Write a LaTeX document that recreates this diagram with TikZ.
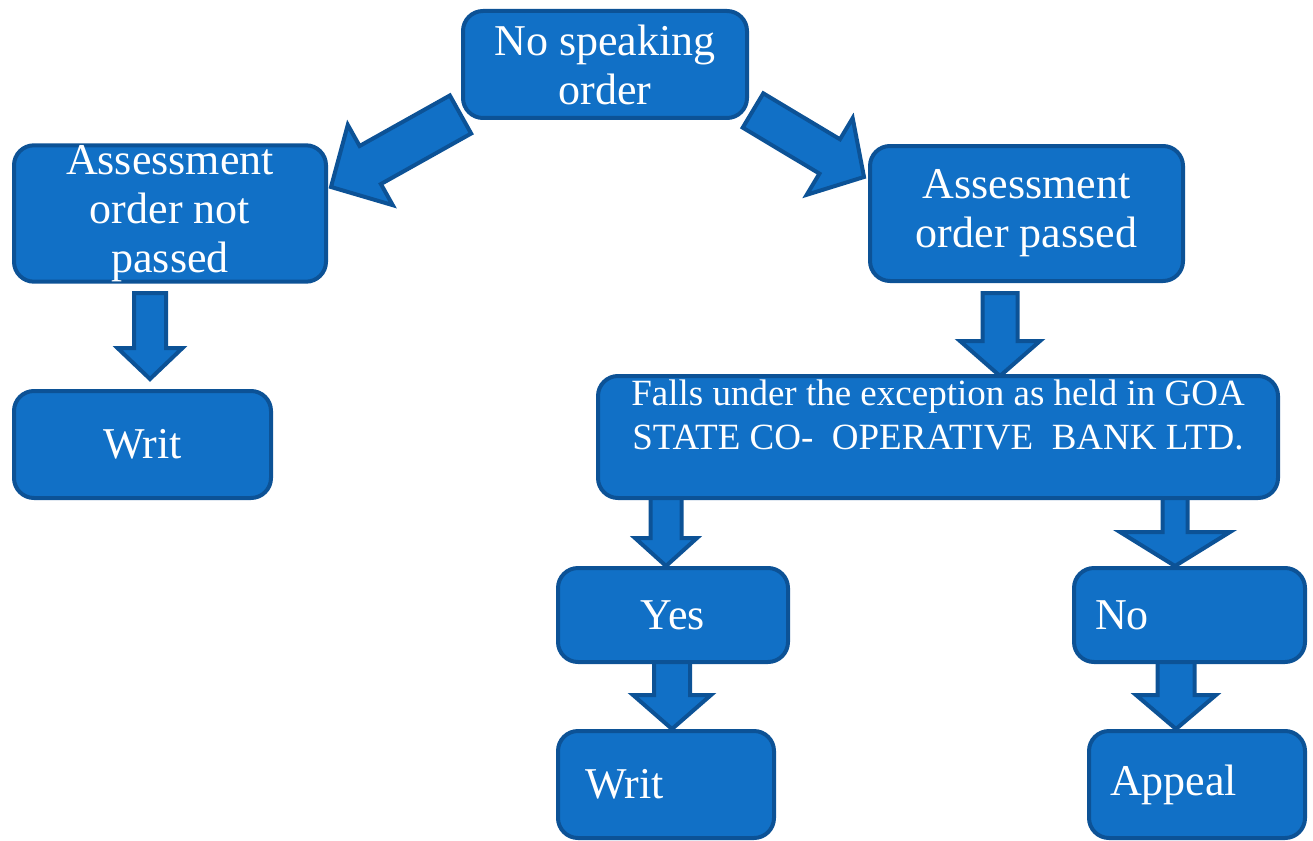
\documentclass[tikz,border=0pt]{standalone}
\usepackage{fontspec}
\setmainfont{Liberation Serif}
\usetikzlibrary{calc}

\definecolor{boxblue}{RGB}{17,112,198}
\definecolor{edgeblue}{RGB}{12,82,150}

\tikzset{
  flowbox/.style={draw=edgeblue, line width=4pt, fill=boxblue, rounded corners=20pt,
    text=white, inner sep=0pt, align=center, font=\fontsize{44}{49}\selectfont},
  fatarrow/.style={draw=edgeblue, line width=4pt, fill=boxblue, line join=miter}
}

% block arrow: from, to, half shaft, half head, head length
\newcommand{\fatarr}[5]{%
  \coordinate (hb) at ($(#2)!#5!(#1)$);
  \draw[fatarrow] ($(#1)!#3!90:(#2)$) -- ($(hb)!#3!90:(#2)$) -- ($(hb)!#4!90:(#2)$)
    -- (#2) -- ($(hb)!#4!-90:(#2)$) -- ($(hb)!#3!-90:(#2)$) -- ($(#1)!#3!-90:(#2)$) -- cycle;
}

\begin{document}
\begin{tikzpicture}[x=1pt, y=-1pt]
\useasboundingbox (0,0) rectangle (1313,840);

% arrow ends
\coordinate (dl1) at (460.5,114.5);  \coordinate (dl2) at (331,187);
\coordinate (dr1) at (753,110.5);    \coordinate (dr2) at (864,177);
\coordinate (vl1) at (150,293);      \coordinate (vl2) at (150,379);
\coordinate (vr1) at (1000,293);     \coordinate (vr2) at (1000,376);
\coordinate (gy1) at (666,495);      \coordinate (gy2) at (666,566);
\coordinate (gn1) at (1175,495);     \coordinate (gn2) at (1175,566);
\coordinate (yw1) at (672,660);      \coordinate (yw2) at (672,729);
\coordinate (na1) at (1176,660);     \coordinate (na2) at (1176,729);

\fatarr{dl1}{dl2}{21.8pt}{46pt}{45pt}
\fatarr{dr1}{dr2}{20pt}{44.7pt}{40pt}
\fatarr{vl1}{vl2}{16pt}{32.5pt}{31pt}
\fatarr{vr1}{vr2}{17.5pt}{40pt}{35pt}
\fatarr{gy1}{gy2}{15.5pt}{31pt}{28pt}
\fatarr{gn1}{gn2}{12.5pt}{55pt}{34pt}
\fatarr{yw1}{yw2}{18pt}{39pt}{34pt}
\fatarr{na1}{na2}{18.5pt}{40pt}{34pt}

\node[flowbox, minimum width=284, minimum height=107] (ord) at (605,64.5) {No speaking\\order};
\node[flowbox, minimum width=312, minimum height=135] (anp) at (170,213.5) {Assessment\\order not\\passed};
\node[flowbox, minimum width=313, minimum height=135] (ap) at (1026.5,213.5) {Assessment\\order passed};
\node[flowbox, minimum width=257, minimum height=107] (writa) at (142.5,444.5) {Writ};
\node[flowbox, minimum width=680, minimum height=122, font=\fontsize{37}{44}\selectfont] (goa) at (938,437)
  {Falls under the exception as held in GOA\\STATE CO-\ \ OPERATIVE\ \ BANK LTD.\\\mbox{}};
\node[flowbox, minimum width=230, minimum height=94] (yes) at (673,615) {Yes};
\node[flowbox, minimum width=231, minimum height=94, text width=189, align=left] (no) at (1189.5,615) {No};
\node[flowbox, minimum width=216, minimum height=107, text width=162, align=left] (writb) at (666,784.5) {Writ};
\node[flowbox, minimum width=216, minimum height=107, text width=174, align=left] (appeal) at (1197,784.5) {Appeal};
\end{tikzpicture}
\end{document}
